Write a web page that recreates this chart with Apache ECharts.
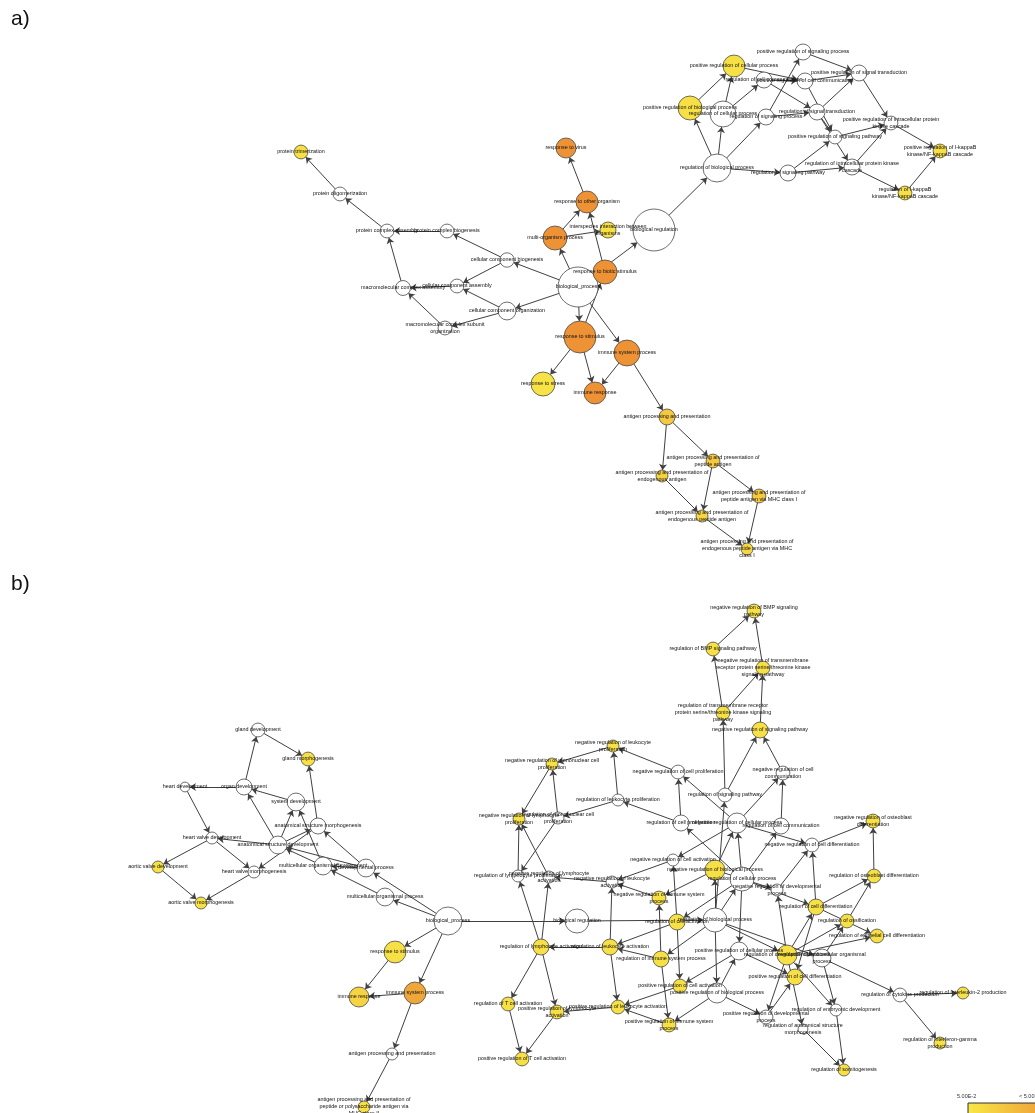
<!DOCTYPE html>
<html>
<head>
<meta charset="utf-8">
<title>GO term enrichment networks</title>
<script src="https://cdn.jsdelivr.net/npm/echarts@6/dist/echarts.min.js"></script>
<style>
  html, body { margin: 0; padding: 0; background: #fff; }
  #chart { width: 1035px; height: 1113px; }
</style>
</head>
<body>
<div id="chart"></div>
<script>
// GO terms: [term, layoutX, layoutY, genes, -log10(p)]  (0 = not significant)
const termsA = [
  ['protein trimerization', 301, 152, 12, 1.8],
  ['protein oligomerization', 340, 194, 12, 0],
  ['protein complex assembly', 387, 231, 12, 0],
  ['protein complex biogenesis', 447, 231, 12, 0],
  ['cellular component biogenesis', 507, 260, 13, 0],
  ['cellular component assembly', 457, 286, 12, 0],
  ['macromolecular complex assembly', 403, 288, 14, 0],
  ['cellular component organization', 507, 311, 20, 0],
  ['macromolecular complex subunit\norganization', 445, 328, 12, 0],
  ['biological_process', 578, 287, 100, 0],
  ['response to biotic stimulus', 605, 272, 36, 7],
  ['multi-organism process', 555, 238, 36, 7],
  ['interspecies interaction between\norganisms', 608, 230, 16, 1.8],
  ['response to other organism', 587, 202, 30, 7],
  ['response to virus', 566, 148, 25, 7],
  ['biological regulation', 654, 230, 110, 0],
  ['response to stimulus', 580, 337, 64, 7],
  ['immune system process', 627, 353, 42, 7],
  ['response to stress', 543, 384, 36, 1.6],
  ['immune response', 595, 393, 30, 7],
  ['antigen processing and presentation', 667, 417, 16, 3.4],
  ['antigen processing and presentation of\npeptide antigen', 713, 461, 12, 3.4],
  ['antigen processing and presentation of\nendogenous antigen', 662, 476, 9, 2.8],
  ['antigen processing and presentation of\npeptide antigen via MHC class I', 759, 496, 12, 3.4],
  ['antigen processing and presentation of\nendogenous peptide antigen', 702, 516, 9, 2.4],
  ['antigen processing and presentation of\nendogenous peptide antigen via MHC\nclass I', 747, 549, 9, 2.4],
  ['regulation of biological process', 717, 168, 49, 0],
  ['positive regulation of biological process', 690, 108, 36, 1.8],
  ['regulation of cellular process', 723, 114, 42, 0],
  ['positive regulation of cellular process', 734, 66, 30, 1.8],
  ['regulation of cell communication', 764, 80, 16, 0],
  ['positive regulation of cell communication', 805, 81, 16, 0],
  ['positive regulation of signaling process', 803, 52, 16, 0],
  ['positive regulation of signal transduction', 859, 73, 16, 0],
  ['regulation of signaling process', 766, 117, 16, 0],
  ['regulation of signal transduction', 817, 112, 16, 0],
  ['positive regulation of signaling pathway', 835, 137, 12, 0],
  ['positive regulation of intracellular protein\nkinase cascade', 891, 123, 12, 0],
  ['regulation of signaling pathway', 788, 173, 16, 0],
  ['regulation of intracellular protein kinase\ncascade', 852, 167, 16, 0],
  ['positive regulation of I-kappaB\nkinase/NF-kappaB cascade', 940, 151, 12, 1.8],
  ['regulation of I-kappaB\nkinase/NF-kappaB cascade', 905, 193, 12, 1.8]
];

const linksA = [
  ['protein oligomerization', 'protein trimerization'],
  ['protein complex assembly', 'protein oligomerization'],
  ['protein complex biogenesis', 'protein complex assembly'],
  ['macromolecular complex assembly', 'protein complex assembly'],
  ['cellular component biogenesis', 'protein complex biogenesis'],
  ['cellular component biogenesis', 'cellular component assembly'],
  ['cellular component assembly', 'macromolecular complex assembly'],
  ['cellular component organization', 'cellular component assembly'],
  ['cellular component organization', 'macromolecular complex subunit organization'],
  ['macromolecular complex subunit organization', 'macromolecular complex assembly'],
  ['biological_process', 'cellular component biogenesis'],
  ['biological_process', 'cellular component organization'],
  ['biological_process', 'multi-organism process'],
  ['biological_process', 'response to stimulus'],
  ['biological_process', 'immune system process'],
  ['biological_process', 'biological regulation'],
  ['multi-organism process', 'response to other organism'],
  ['multi-organism process', 'interspecies interaction between organisms'],
  ['response to biotic stimulus', 'response to other organism'],
  ['response to other organism', 'response to virus'],
  ['response to stimulus', 'response to biotic stimulus'],
  ['response to stimulus', 'response to stress'],
  ['response to stimulus', 'immune response'],
  ['immune system process', 'immune response'],
  ['immune system process', 'antigen processing and presentation'],
  ['antigen processing and presentation', 'antigen processing and presentation of peptide antigen'],
  ['antigen processing and presentation', 'antigen processing and presentation of endogenous antigen'],
  ['antigen processing and presentation of peptide antigen', 'antigen processing and presentation of peptide antigen via MHC class I'],
  ['antigen processing and presentation of peptide antigen', 'antigen processing and presentation of endogenous peptide antigen'],
  ['antigen processing and presentation of endogenous antigen', 'antigen processing and presentation of endogenous peptide antigen'],
  ['antigen processing and presentation of endogenous peptide antigen', 'antigen processing and presentation of endogenous peptide antigen via MHC class I'],
  ['antigen processing and presentation of peptide antigen via MHC class I', 'antigen processing and presentation of endogenous peptide antigen via MHC class I'],
  ['biological regulation', 'regulation of biological process'],
  ['regulation of biological process', 'positive regulation of biological process'],
  ['regulation of biological process', 'regulation of cellular process'],
  ['regulation of biological process', 'regulation of signaling process'],
  ['regulation of biological process', 'regulation of signaling pathway'],
  ['positive regulation of biological process', 'positive regulation of cellular process'],
  ['regulation of cellular process', 'positive regulation of cellular process'],
  ['regulation of cellular process', 'regulation of cell communication'],
  ['positive regulation of cellular process', 'positive regulation of cell communication'],
  ['regulation of cell communication', 'positive regulation of cell communication'],
  ['regulation of cell communication', 'regulation of signal transduction'],
  ['regulation of signaling process', 'positive regulation of signaling process'],
  ['regulation of signaling process', 'regulation of signal transduction'],
  ['positive regulation of signaling process', 'positive regulation of signal transduction'],
  ['positive regulation of cell communication', 'positive regulation of signal transduction'],
  ['positive regulation of cell communication', 'positive regulation of signaling pathway'],
  ['regulation of signal transduction', 'positive regulation of signal transduction'],
  ['regulation of signal transduction', 'positive regulation of signaling pathway'],
  ['regulation of signal transduction', 'regulation of intracellular protein kinase cascade'],
  ['regulation of signaling pathway', 'positive regulation of signaling pathway'],
  ['regulation of signaling pathway', 'regulation of intracellular protein kinase cascade'],
  ['positive regulation of signal transduction', 'positive regulation of intracellular protein kinase cascade'],
  ['positive regulation of signaling pathway', 'positive regulation of intracellular protein kinase cascade'],
  ['regulation of intracellular protein kinase cascade', 'positive regulation of intracellular protein kinase cascade'],
  ['regulation of intracellular protein kinase cascade', 'regulation of I-kappaB kinase/NF-kappaB cascade'],
  ['positive regulation of intracellular protein kinase cascade', 'positive regulation of I-kappaB kinase/NF-kappaB cascade'],
  ['regulation of I-kappaB kinase/NF-kappaB cascade', 'positive regulation of I-kappaB kinase/NF-kappaB cascade']
];

const termsB = [
  ['gland development', 258, 730, 12, 0],
  ['gland morphogenesis', 308, 759, 12, 1.8],
  ['heart development', 185, 787, 6, 0],
  ['organ development', 244, 787, 16, 0],
  ['system development', 296, 802, 20, 0],
  ['anatomical structure morphogenesis', 318, 826, 16, 0],
  ['heart valve development', 212, 838, 9, 0],
  ['anatomical structure development', 278, 845, 20, 0],
  ['aortic valve development', 158, 867, 9, 1.8],
  ['heart valve morphogenesis', 254, 872, 9, 0],
  ['multicellular organismal development', 323, 866, 20, 0],
  ['developmental process', 366, 868, 20, 0],
  ['aortic valve morphogenesis', 201, 903, 9, 1.8],
  ['multicellular organismal process', 385, 897, 20, 0],
  ['biological_process', 448, 921, 49, 0],
  ['response to stimulus', 395, 952, 30, 1.8],
  ['immune system process', 415, 993, 30, 5.6],
  ['immune response', 359, 997, 25, 2.7],
  ['antigen processing and presentation', 392, 1054, 9, 0],
  ['antigen processing and presentation of\npeptide or polysaccharide antigen via\nMHC class II', 364, 1107, 9, 1.8],
  ['biological regulation', 577, 921, 36, 0],
  ['regulation of biological process', 715, 920, 36, 0],
  ['regulation of cellular process', 742, 879, 36, 0],
  ['negative regulation of biological process', 715, 870, 25, 1.8],
  ['positive regulation of biological process', 717, 993, 25, 0],
  ['positive regulation of cellular process', 739, 951, 20, 0],
  ['negative regulation of cellular process', 737, 823, 25, 0],
  ['regulation of signaling pathway', 725, 795, 12, 0],
  ['regulation of transmembrane receptor\nprotein serine/threonine kinase signaling\npathway', 723, 713, 12, 1.8],
  ['negative regulation of signaling pathway', 760, 730, 16, 1.8],
  ['regulation of BMP signaling pathway', 713, 649, 12, 1.8],
  ['negative regulation of transmembrane\nreceptor protein serine/threonine kinase\nsignaling pathway', 763, 668, 12, 1.8],
  ['negative regulation of BMP signaling\npathway', 754, 611, 12, 1.8],
  ['negative regulation of cell proliferation', 678, 772, 12, 0],
  ['negative regulation of cell\ncommunication', 783, 773, 12, 0],
  ['regulation of cell communication', 781, 826, 16, 0],
  ['regulation of cell proliferation', 681, 823, 16, 0],
  ['regulation of leukocyte proliferation', 618, 800, 9, 0],
  ['negative regulation of leukocyte\nproliferation', 613, 746, 9, 1.8],
  ['negative regulation of mononuclear cell\nproliferation', 552, 764, 9, 1.8],
  ['regulation of mononuclear cell\nproliferation', 558, 818, 9, 0],
  ['negative regulation of lymphocyte\nproliferation', 519, 819, 9, 1.8],
  ['regulation of lymphocyte proliferation', 518, 876, 9, 0],
  ['negative regulation of lymphocyte\nactivation', 549, 877, 9, 0],
  ['negative regulation of leukocyte\nactivation', 612, 882, 9, 0],
  ['negative regulation of cell activation', 673, 860, 9, 0],
  ['negative regulation of immune system\nprocess', 659, 898, 12, 1.8],
  ['regulation of cell activation', 677, 922, 16, 1.8],
  ['regulation of lymphocyte activation', 541, 947, 16, 1.8],
  ['regulation of leukocyte activation', 610, 947, 16, 1.8],
  ['regulation of immune system process', 661, 959, 16, 1.8],
  ['positive regulation of cell activation', 680, 986, 12, 1.8],
  ['regulation of T cell activation', 508, 1004, 12, 1.8],
  ['positive regulation of lymphocyte\nactivation', 557, 1012, 12, 1.8],
  ['positive regulation of leukocyte activation', 618, 1007, 12, 1.8],
  ['positive regulation of immune system\nprocess', 669, 1025, 12, 1.8],
  ['positive regulation of T cell activation', 522, 1059, 12, 1.8],
  ['negative regulation of cell differentiation', 812, 845, 12, 0],
  ['negative regulation of osteoblast\ndifferentiation', 873, 821, 12, 1.8],
  ['regulation of osteoblast differentiation', 874, 876, 12, 1.8],
  ['negative regulation of developmental\nprocess', 777, 890, 9, 0],
  ['regulation of cell differentiation', 816, 907, 16, 1.8],
  ['regulation of ossification', 847, 921, 12, 1.8],
  ['regulation of epithelial cell differentiation', 877, 936, 12, 1.8],
  ['regulation of developmental process', 787, 955, 25, 1.8],
  ['regulation of multicellular organismal\nprocess', 822, 958, 20, 0],
  ['positive regulation of cell differentiation', 795, 977, 16, 1.8],
  ['positive regulation of developmental\nprocess', 766, 1017, 12, 0],
  ['regulation of anatomical structure\nmorphogenesis', 803, 1029, 6, 0],
  ['regulation of embryonic development', 836, 1010, 9, 0],
  ['regulation of somitogenesis', 844, 1070, 9, 1.8],
  ['regulation of cytokine production', 900, 995, 12, 0],
  ['regulation of interleukin-2 production', 963, 993, 9, 1.8],
  ['regulation of interferon-gamma\nproduction', 940, 1043, 9, 1.8]
];

const linksB = [
  ['gland development', 'gland morphogenesis'],
  ['organ development', 'gland development'],
  ['organ development', 'heart development'],
  ['system development', 'organ development'],
  ['anatomical structure development', 'organ development'],
  ['anatomical structure development', 'system development'],
  ['anatomical structure development', 'anatomical structure morphogenesis'],
  ['anatomical structure development', 'heart valve development'],
  ['anatomical structure morphogenesis', 'gland morphogenesis'],
  ['anatomical structure morphogenesis', 'heart valve morphogenesis'],
  ['heart development', 'heart valve development'],
  ['heart valve development', 'aortic valve development'],
  ['heart valve development', 'heart valve morphogenesis'],
  ['aortic valve development', 'aortic valve morphogenesis'],
  ['heart valve morphogenesis', 'aortic valve morphogenesis'],
  ['multicellular organismal development', 'system development'],
  ['multicellular organismal development', 'anatomical structure development'],
  ['developmental process', 'anatomical structure development'],
  ['developmental process', 'anatomical structure morphogenesis'],
  ['developmental process', 'multicellular organismal development'],
  ['multicellular organismal process', 'multicellular organismal development'],
  ['biological_process', 'multicellular organismal process'],
  ['biological_process', 'developmental process'],
  ['biological_process', 'response to stimulus'],
  ['biological_process', 'immune system process'],
  ['biological_process', 'biological regulation'],
  ['response to stimulus', 'immune response'],
  ['immune system process', 'immune response'],
  ['immune system process', 'antigen processing and presentation'],
  ['antigen processing and presentation', 'antigen processing and presentation of peptide or polysaccharide antigen via MHC class II'],
  ['biological regulation', 'regulation of biological process'],
  ['regulation of biological process', 'regulation of cellular process'],
  ['regulation of biological process', 'negative regulation of biological process'],
  ['regulation of biological process', 'positive regulation of biological process'],
  ['regulation of biological process', 'regulation of signaling pathway'],
  ['regulation of biological process', 'regulation of developmental process'],
  ['regulation of biological process', 'regulation of multicellular organismal process'],
  ['regulation of biological process', 'regulation of immune system process'],
  ['regulation of signaling pathway', 'regulation of transmembrane receptor protein serine/threonine kinase signaling pathway'],
  ['regulation of signaling pathway', 'negative regulation of signaling pathway'],
  ['negative regulation of cell communication', 'negative regulation of signaling pathway'],
  ['regulation of transmembrane receptor protein serine/threonine kinase signaling pathway', 'regulation of BMP signaling pathway'],
  ['regulation of transmembrane receptor protein serine/threonine kinase signaling pathway', 'negative regulation of transmembrane receptor protein serine/threonine kinase signaling pathway'],
  ['negative regulation of signaling pathway', 'negative regulation of transmembrane receptor protein serine/threonine kinase signaling pathway'],
  ['regulation of BMP signaling pathway', 'negative regulation of BMP signaling pathway'],
  ['negative regulation of transmembrane receptor protein serine/threonine kinase signaling pathway', 'negative regulation of BMP signaling pathway'],
  ['negative regulation of biological process', 'negative regulation of cellular process'],
  ['regulation of cellular process', 'negative regulation of cellular process'],
  ['negative regulation of cellular process', 'negative regulation of cell proliferation'],
  ['negative regulation of cellular process', 'negative regulation of cell communication'],
  ['negative regulation of cellular process', 'negative regulation of cell differentiation'],
  ['negative regulation of cellular process', 'negative regulation of cell activation'],
  ['regulation of cellular process', 'regulation of cell communication'],
  ['regulation of cellular process', 'regulation of cell proliferation'],
  ['regulation of cellular process', 'regulation of cell activation'],
  ['regulation of cellular process', 'regulation of cell differentiation'],
  ['regulation of cellular process', 'positive regulation of cellular process'],
  ['regulation of cell communication', 'negative regulation of cell communication'],
  ['regulation of cell proliferation', 'negative regulation of cell proliferation'],
  ['regulation of cell proliferation', 'regulation of leukocyte proliferation'],
  ['negative regulation of cell proliferation', 'negative regulation of leukocyte proliferation'],
  ['regulation of leukocyte proliferation', 'negative regulation of leukocyte proliferation'],
  ['regulation of leukocyte proliferation', 'regulation of mononuclear cell proliferation'],
  ['negative regulation of leukocyte proliferation', 'negative regulation of mononuclear cell proliferation'],
  ['regulation of mononuclear cell proliferation', 'negative regulation of mononuclear cell proliferation'],
  ['regulation of mononuclear cell proliferation', 'regulation of lymphocyte proliferation'],
  ['negative regulation of mononuclear cell proliferation', 'negative regulation of lymphocyte proliferation'],
  ['regulation of lymphocyte proliferation', 'negative regulation of lymphocyte proliferation'],
  ['negative regulation of lymphocyte activation', 'negative regulation of lymphocyte proliferation'],
  ['regulation of lymphocyte activation', 'regulation of lymphocyte proliferation'],
  ['regulation of lymphocyte activation', 'negative regulation of lymphocyte activation'],
  ['negative regulation of leukocyte activation', 'negative regulation of lymphocyte activation'],
  ['negative regulation of cell activation', 'negative regulation of leukocyte activation'],
  ['negative regulation of immune system process', 'negative regulation of leukocyte activation'],
  ['negative regulation of biological process', 'negative regulation of immune system process'],
  ['negative regulation of biological process', 'negative regulation of developmental process'],
  ['regulation of immune system process', 'negative regulation of immune system process'],
  ['regulation of immune system process', 'positive regulation of immune system process'],
  ['regulation of immune system process', 'regulation of leukocyte activation'],
  ['regulation of cell activation', 'negative regulation of cell activation'],
  ['regulation of cell activation', 'positive regulation of cell activation'],
  ['regulation of cell activation', 'regulation of leukocyte activation'],
  ['regulation of leukocyte activation', 'regulation of lymphocyte activation'],
  ['regulation of leukocyte activation', 'negative regulation of leukocyte activation'],
  ['regulation of leukocyte activation', 'positive regulation of leukocyte activation'],
  ['positive regulation of cell activation', 'positive regulation of leukocyte activation'],
  ['positive regulation of immune system process', 'positive regulation of leukocyte activation'],
  ['positive regulation of leukocyte activation', 'positive regulation of lymphocyte activation'],
  ['regulation of lymphocyte activation', 'regulation of T cell activation'],
  ['regulation of lymphocyte activation', 'positive regulation of lymphocyte activation'],
  ['regulation of T cell activation', 'positive regulation of T cell activation'],
  ['positive regulation of lymphocyte activation', 'positive regulation of T cell activation'],
  ['positive regulation of biological process', 'positive regulation of cellular process'],
  ['positive regulation of biological process', 'positive regulation of immune system process'],
  ['positive regulation of biological process', 'positive regulation of developmental process'],
  ['positive regulation of cellular process', 'positive regulation of cell activation'],
  ['positive regulation of cellular process', 'positive regulation of cell differentiation'],
  ['positive regulation of developmental process', 'positive regulation of cell differentiation'],
  ['regulation of developmental process', 'negative regulation of developmental process'],
  ['regulation of developmental process', 'regulation of cell differentiation'],
  ['regulation of developmental process', 'positive regulation of developmental process'],
  ['regulation of developmental process', 'regulation of anatomical structure morphogenesis'],
  ['regulation of developmental process', 'regulation of embryonic development'],
  ['regulation of developmental process', 'regulation of ossification'],
  ['regulation of developmental process', 'regulation of epithelial cell differentiation'],
  ['regulation of multicellular organismal process', 'regulation of ossification'],
  ['regulation of multicellular organismal process', 'regulation of embryonic development'],
  ['regulation of multicellular organismal process', 'regulation of cytokine production'],
  ['negative regulation of developmental process', 'negative regulation of cell differentiation'],
  ['regulation of cell differentiation', 'negative regulation of cell differentiation'],
  ['regulation of cell differentiation', 'regulation of osteoblast differentiation'],
  ['regulation of cell differentiation', 'positive regulation of cell differentiation'],
  ['regulation of cell differentiation', 'regulation of epithelial cell differentiation'],
  ['regulation of ossification', 'regulation of osteoblast differentiation'],
  ['negative regulation of cell differentiation', 'negative regulation of osteoblast differentiation'],
  ['regulation of osteoblast differentiation', 'negative regulation of osteoblast differentiation'],
  ['regulation of embryonic development', 'regulation of somitogenesis'],
  ['regulation of anatomical structure morphogenesis', 'regulation of somitogenesis'],
  ['regulation of cytokine production', 'regulation of interleukin-2 production'],
  ['regulation of cytokine production', 'regulation of interferon-gamma production']
];

// p-value colour scale end points (-log10 p)
const scaleLabels = ['5.00E-2', '< 5.00E-7'];
const sigLow = 1.3, sigHigh = 7;
const yellow = [248, 232, 70], orange = [238, 146, 54];

function nodeColor(sig) {
  if (!sig) return '#ffffff';
  const t = Math.max(0, Math.min(1, (sig - sigLow) / (sigHigh - sigLow)));
  const c = yellow.map((v, i) => Math.round(v + (orange[i] - v) * t));
  return 'rgb(' + c.join(',') + ')';
}
const key = s => s.replace(/\n/g, ' ');

function graphSeries(terms, links) {
  return {
    type: 'graph',
    coordinateSystem: 'cartesian2d',
    xAxisIndex: 0,
    yAxisIndex: 0,
    silent: true,
    animation: false,
    data: terms.map(t => ({
      name: key(t[0]),
      value: [t[1], t[2]],
      symbolSize: 4 * Math.sqrt(t[3]),
      itemStyle: { color: nodeColor(t[4]) },
      label: { formatter: t[0] }
    })),
    links: links.map(l => ({ source: l[0], target: l[1] })),
    symbol: 'circle',
    itemStyle: { borderColor: '#4a4a4a', borderWidth: 0.8 },
    edgeSymbol: ['none', 'arrow'],
    edgeSymbolSize: [0, 6],
    lineStyle: { color: '#404040', width: 1, opacity: 1, curveness: 0 },
    label: {
      show: true,
      position: 'inside',
      fontFamily: 'Liberation Sans, Arial, sans-serif',
      fontSize: 5.4,
      lineHeight: 7,
      color: '#111'
    },
    emphasis: { disabled: true }
  };
}

const chart = echarts.init(document.getElementById('chart'), null, { renderer: 'canvas' });
chart.setOption({
  backgroundColor: '#ffffff',
  animation: false,
  grid: { left: 0, right: 0, top: 0, bottom: 0 },
  xAxis: { type: 'value', min: 0, max: 1035, show: false },
  yAxis: { type: 'value', min: 0, max: 1113, inverse: true, show: false },
  series: [graphSeries(termsA, linksA), graphSeries(termsB, linksB)],
  graphic: [
    { type: 'text', left: 11, top: 9, style: { text: 'a)', fontSize: 21, fontFamily: 'Liberation Sans, Arial', fill: '#111' } },
    { type: 'text', left: 11, top: 574, style: { text: 'b)', fontSize: 21, fontFamily: 'Liberation Sans, Arial', fill: '#111' } },
    { type: 'text', x: 957, y: 1093, style: { text: scaleLabels[0], fontSize: 5.5, fontFamily: 'Liberation Sans, Arial', fill: '#333' } },
    { type: 'text', x: 1019, y: 1093, style: { text: scaleLabels[1], fontSize: 5.5, fontFamily: 'Liberation Sans, Arial', fill: '#333' } },
    {
      type: 'rect', shape: { x: 968, y: 1103, width: 90, height: 14 },
      style: {
        fill: new echarts.graphic.LinearGradient(0, 0, 1, 0, [
          { offset: 0, color: 'rgb(248,232,70)' },
          { offset: 1, color: 'rgb(238,146,54)' }
        ]),
        stroke: '#333', lineWidth: 1
      }
    }
  ]
});
</script>
</body>
</html>
